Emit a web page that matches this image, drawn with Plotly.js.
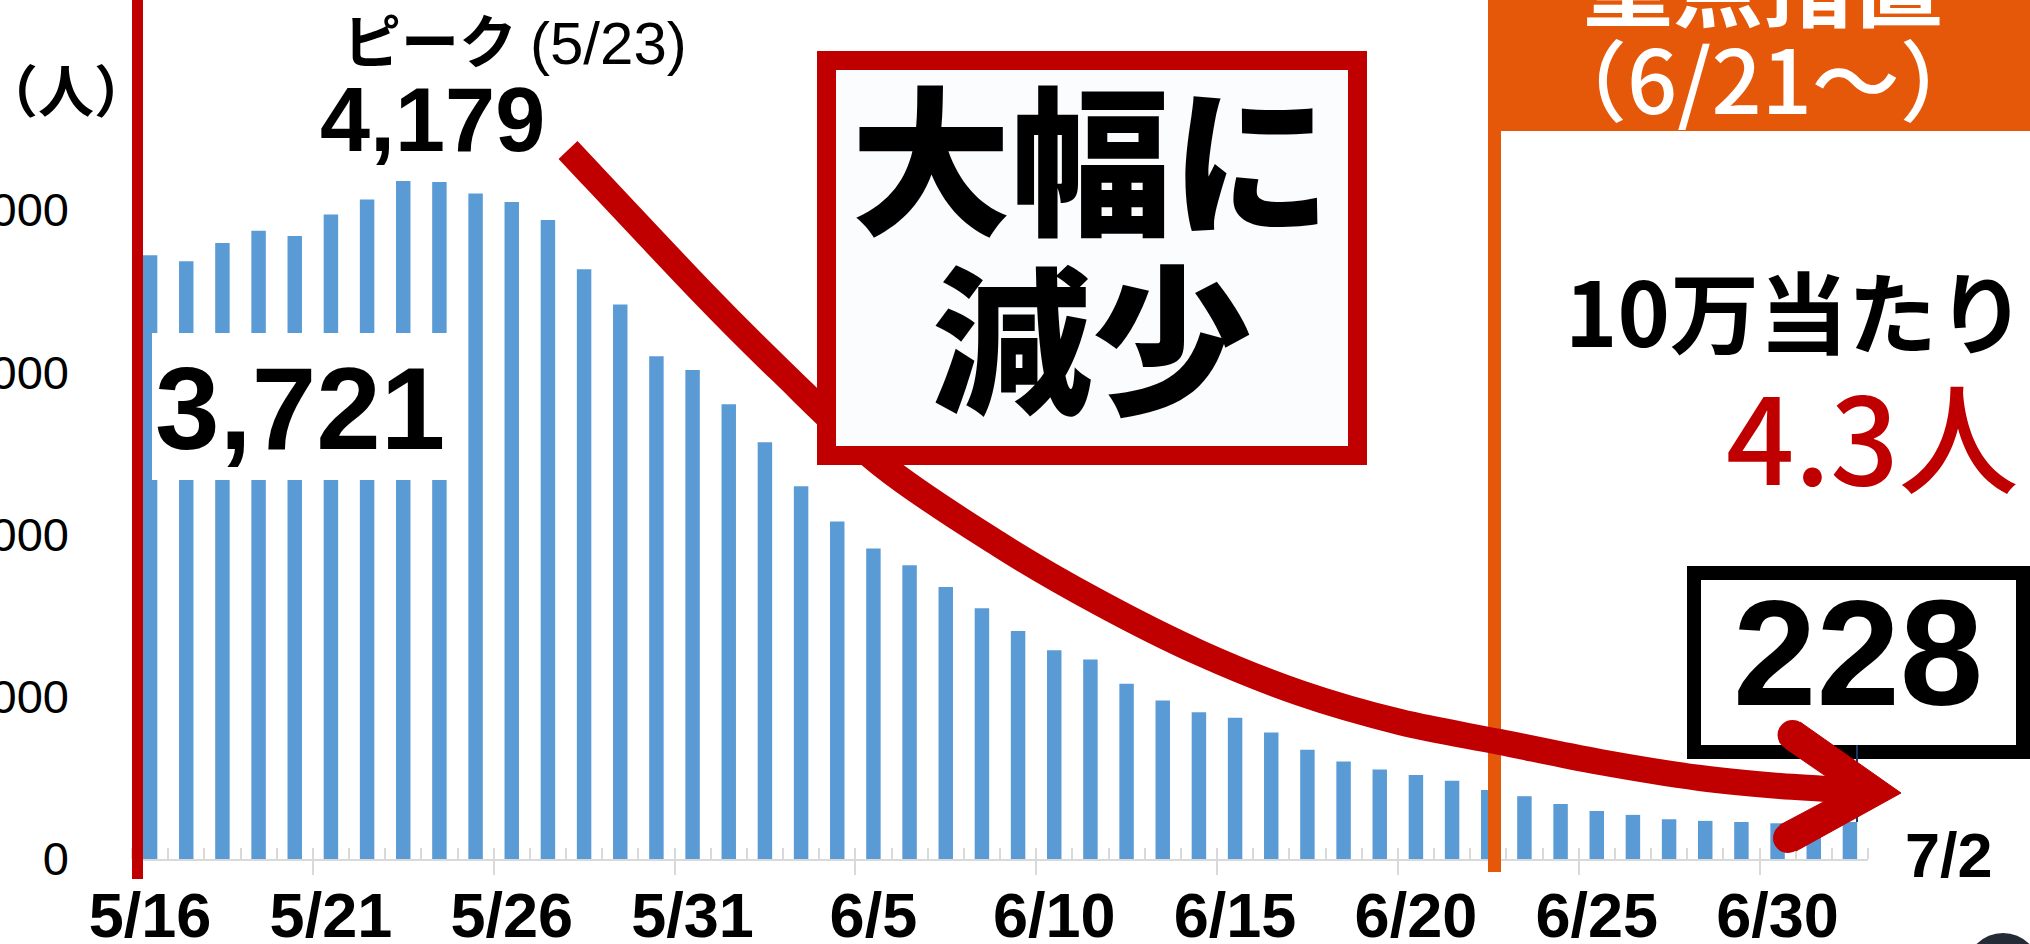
<!DOCTYPE html>
<html>
<head>
<meta charset="utf-8">
<script src="https://cdn.plot.ly/plotly-3.0.1.min.js"></script>
<style>html,body{margin:0;padding:0;background:#fff;}#chart{width:2030px;height:944px;}</style>
</head>
<body>
<div id="chart"></div>
<script>
// ---- data ----
const dates = ["5/16","5/17","5/18","5/19","5/20","5/21","5/22","5/23","5/24","5/25","5/26","5/27","5/28","5/29","5/30","5/31",
  "6/1","6/2","6/3","6/4","6/5","6/6","6/7","6/8","6/9","6/10","6/11","6/12","6/13","6/14","6/15","6/16","6/17","6/18","6/19","6/20",
  "6/21","6/22","6/23","6/24","6/25","6/26","6/27","6/28","6/29","6/30","7/1","7/2"];
const cases = [3721,3684,3796,3872,3839,3972,4065,4179,4173,4101,4049,3938,3634,3418,3098,3013,
  2803,2568,2297,2080,1914,1810,1676,1545,1405,1287,1230,1080,977,905,870,779,673,601,551,518,
  483,426,387,339,296,272,245,235,228,220,222,228];
const labelEvery = 5;
const yTicks = [0,1000,2000,3000,4000];

// ---- geometry helpers (pixel -> paper) ----
const L = 132, R = 1868, B = 859, T = 0;
const W = R - L, H = B - T;
const px = x => (x - L) / W;
const py = y => (B - y) / H;

const idx = dates.map((d, i) => i);
const tickIdx = idx.filter(i => i % labelEvery === 0 && i < dates.length - 1);
const tickTxt = tickIdx.map(i => dates[i]);
const majorTicks = tickIdx.filter(i => i > 0).map(i => i - 0.5);

const RED = "#C00000", ORANGE = "#E5580A", BLUE = "#5B9BD5";
const NUM = "Liberation Sans, Arial, sans-serif";
const NARROW = "Liberation Sans Narrow, Arial Narrow, Liberation Sans, sans-serif";
const JP = "Noto Sans CJK JP, Noto Sans, sans-serif";

function smoothPath(pts) {
  let d = `M${px(pts[0][0])},${py(pts[0][1])}`;
  for (let i = 0; i < pts.length - 1; i++) {
    const p0 = pts[i - 1] || pts[i], p1 = pts[i], p2 = pts[i + 1], p3 = pts[i + 2] || pts[i + 1];
    const c1 = [p1[0] + (p2[0] - p0[0]) / 6, p1[1] + (p2[1] - p0[1]) / 6];
    const c2 = [p2[0] - (p3[0] - p1[0]) / 6, p2[1] - (p3[1] - p1[1]) / 6];
    d += ` C${px(c1[0])},${py(c1[1])} ${px(c2[0])},${py(c2[1])} ${px(p2[0])},${py(p2[1])}`;
  }
  return d;
}
function polyPath(pts) {
  return pts.map((p, i) => (i ? "L" : "M") + px(p[0]) + "," + py(p[1])).join(" ") + " Z";
}
function rectPx(x0, y0, x1, y1, fill, line) {
  return {type: "rect", xref: "paper", yref: "paper", layer: "above",
    x0: px(x0), x1: px(x1), y0: py(y1), y1: py(y0), fillcolor: fill,
    line: line || {width: 0}};
}
function circlePx(cx, cy, r, fill) {
  return {type: "circle", xref: "paper", yref: "paper", layer: "above",
    x0: px(cx - r), x1: px(cx + r), y0: py(cy + r), y1: py(cy - r), fillcolor: fill, line: {width: 0}};
}
function text(t, x, y, size, opts) {
  opts = opts || {};
  return {text: t, xref: "paper", yref: "paper", x: px(x), y: py(y), showarrow: false,
    xanchor: opts.xanchor || "center", yanchor: "middle",
    font: {family: opts.family || JP, size: size, color: opts.color || "#000", weight: opts.weight || "normal"}};
}

// decorative arrow path (pixels)
const arrowPts = [[568,150],[702,292],[780,370],[882,465],[1000,545],[1100,603],[1200,653],[1300,693],
  [1400,722],[1500,742],[1600,762],[1700,778],[1780,786],[1865,791]];
const headPts = [[1800,722],[1901,793],[1796,851],[1780,825],[1846,790],[1785,748]];

const shapes = [
  rectPx(152, 333, 468, 480, "#ffffff"),
  rectPx(132, -5, 143, 879, RED),
  rectPx(1488, -10, 2040, 131, ORANGE),
  rectPx(1488, 131, 1501, 872, ORANGE),
  {type: "rect", xref: "paper", yref: "paper", layer: "above",
    x0: px(1694), x1: px(2023), y0: py(752), y1: py(573), fillcolor: "#ffffff", line: {color: "#000", width: 14}},
  {type: "line", xref: "paper", yref: "paper", layer: "above",
    x0: px(1857), x1: px(1857), y0: py(745), y1: py(822), line: {color: "#1F3864", width: 2}},
  {type: "path", xref: "paper", yref: "paper", layer: "above", path: smoothPath(arrowPts),
    line: {color: RED, width: 26}},
  {type: "path", xref: "paper", yref: "paper", layer: "above", path: polyPath(headPts),
    fillcolor: RED, line: {color: RED, width: 1}},
  circlePx(1792.5, 735, 15, RED),
  circlePx(1788, 838, 15, RED),
  {type: "rect", xref: "paper", yref: "paper", layer: "above",
    x0: px(826.5), x1: px(1357.5), y0: py(455.5), y1: py(60.5), fillcolor: "#FBFCFE", line: {color: RED, width: 19}},
  circlePx(2003, 970, 37, "#252B36")
];

const annotations = [
  text("（人）", 66, 87, 56, {weight: 700}),
  text("ピーク", 430, 38, 58, {weight: 700}),
  text("(5/23)", 608, 44, 60, {family: NUM}),
  text("4,179", 432, 120, 90, {family: NUM, weight: 700}),
  text("3,721", 300, 409, 116, {family: NUM, weight: 700}),
  text("大幅に", 1091, 153, 160, {weight: 900}),
  text("減少", 1092, 332, 160, {weight: 900}),
  text("重点措置", 1763, -19, 90, {weight: 700, color: "#fff"}),
  text("（6/21～）", 1763, 76, 88, {color: "#fff", weight: 500}),
  text("10万当たり", 1795, 308, 89, {weight: 700}),
  text("4.3人", 1873, 433, 120, {color: RED, weight: 500}),
  text("228", 1858, 653, 150, {family: NUM, weight: 700}),
  text("7/2", 1949, 855, 63, {family: NUM, weight: 700})
];

const traces = [
  {type: "bar", x: idx, y: cases, width: 0.4, marker: {color: BLUE, line: {width: 0}},
    hoverinfo: "skip", showlegend: false},
  {type: "scatter", x: [idx[0]], y: [0], xaxis: "x2", mode: "markers", marker: {opacity: 0},
    hoverinfo: "skip", showlegend: false}
];

const layout = {
  width: 2030, height: 944,
  margin: {l: L, r: 2030 - R, t: T, b: 944 - B, pad: 0},
  paper_bgcolor: "#ffffff", plot_bgcolor: "#ffffff",
  showlegend: false,
  bargap: 0.6,
  xaxis: {
    type: "linear", range: [-0.5, dates.length - 0.5], fixedrange: true,
    tickmode: "array", tickvals: tickIdx, ticktext: tickTxt, ticks: "",
    tickfont: {family: NUM, size: 63, color: "#000", weight: 700},
    ticklabelstandoff: 0,
    showline: true, linecolor: "#D9D9D9", linewidth: 2,
    showgrid: false, zeroline: false,
    minor: {tickmode: "linear", tick0: -0.5, dtick: 1, ticks: "inside", ticklen: 11,
      tickwidth: 2, tickcolor: "#D9D9D9", showgrid: false}
  },
  xaxis2: {
    overlaying: "x", anchor: "y", side: "bottom", type: "linear",
    range: [-0.5, dates.length - 0.5], fixedrange: true,
    tickmode: "array", tickvals: majorTicks, ticks: "outside", ticklen: 15,
    tickwidth: 2, tickcolor: "#D9D9D9", showticklabels: false,
    showline: false, showgrid: false, zeroline: false
  },
  yaxis: {
    range: [0, 5294], fixedrange: true,
    tickmode: "array", tickvals: yTicks, tickformat: ",",
    ticks: "", ticklabelstandoff: 62,
    tickfont: {family: NARROW, size: 47, color: "#000"},
    showline: false, showgrid: false, zeroline: false
  },
  shapes: shapes,
  annotations: annotations
};

Plotly.newPlot("chart", traces, layout, {displayModeBar: false, staticPlot: true});
</script>
</body>
</html>
